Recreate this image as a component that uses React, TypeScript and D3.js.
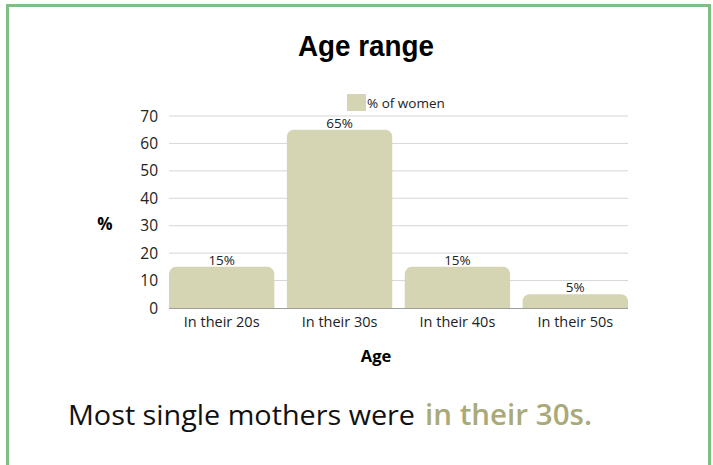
import React from "react";
import * as d3 from "d3";

const categories = ["In their 20s", "In their 30s", "In their 40s", "In their 50s"];
const values = [15, 65, 15, 5];
const valueLabels = ["15%", "65%", "15%", "5%"];
const yTicks = [0, 10, 20, 30, 40, 50, 60, 70];
const seriesName = "% of women";

const W = 713;
const H = 465;
const plot = { left: 169, right: 628, top: 116, bottom: 308 };
const barColor = "#d5d5b3";
const bodyFont = "'Open Sans', 'Noto Sans', sans-serif";

function topRoundedRect(x: number, y: number, w: number, h: number, r: number) {
  const rr = Math.min(r, h, w / 2);
  const p = d3.path();
  p.moveTo(x, y + h);
  p.lineTo(x, y + rr);
  p.arcTo(x, y, x + rr, y, rr);
  p.lineTo(x + w - rr, y);
  p.arcTo(x + w, y, x + w, y + rr, rr);
  p.lineTo(x + w, y + h);
  p.closePath();
  return p.toString();
}

export default function App() {
  const x = d3
    .scaleBand<string>()
    .domain(categories)
    .range([plot.left, plot.right])
    .paddingInner(0.106)
    .paddingOuter(0);
  const y = d3.scaleLinear().domain([0, 70]).range([plot.bottom, plot.top]);

  return (
    <svg
      width={W}
      height={H}
      style={{ position: "absolute", left: 0, top: 0, background: "#fff" }}
    >
      {/* frame */}
      <rect x={7.5} y={5.5} width={702} height={H + 20} fill="#fff" stroke="#7fbf86" strokeWidth={3} />

      <text
        x={298}
        y={56}
        fontFamily="'Liberation Sans', Arial, sans-serif"
        fontWeight="bold"
        fontSize={29}
        textLength={136}
        lengthAdjust="spacingAndGlyphs"
        fill="#000"
      >
        Age range
      </text>

      {/* legend */}
      <rect x={347} y={94} width={19} height={17} fill={barColor} />
      <text x={367} y={108} fontFamily={bodyFont} fontSize={13.5} fill="#222">
        {seriesName}
      </text>

      {/* grid */}
      {yTicks.map((t) => (
        <g key={t}>
          {t > 0 && (
            <line x1={plot.left} x2={plot.right} y1={y(t)} y2={y(t)} stroke="#d6d6d6" strokeWidth={1} />
          )}
          <text
            x={158}
            y={y(t) + 5.5}
            textAnchor="end"
            fontFamily={bodyFont}
            fontSize={15.5}
            fill="#222"
          >
            {t}
          </text>
        </g>
      ))}

      {/* bars */}
      {categories.map((c, i) => {
        const bx = x(c)!;
        const bw = x.bandwidth();
        const top = y(values[i]);
        return (
          <g key={c}>
            <path d={topRoundedRect(bx, top, bw, plot.bottom - top, 7)} fill={barColor} />
            <text
              x={bx + bw / 2}
              y={top - 2}
              textAnchor="middle"
              fontFamily={bodyFont}
              fontSize={13.5}
              fill="#222"
            >
              {valueLabels[i]}
            </text>
            <text
              x={bx + bw / 2}
              y={327}
              textAnchor="middle"
              fontFamily={bodyFont}
              fontSize={14.5}
              fill="#222"
            >
              {c}
            </text>
          </g>
        );
      })}

      <line x1={plot.left} x2={plot.right} y1={plot.bottom + 0.5} y2={plot.bottom + 0.5} stroke="#9e9e9e" strokeWidth={1} />

      {/* axis titles */}
      <text x={105} y={230} textAnchor="middle" fontFamily={bodyFont} fontWeight="bold" fontSize={17} fill="#000">
        %
      </text>
      <text x={376} y={362} textAnchor="middle" fontFamily={bodyFont} fontWeight="bold" fontSize={16.5} fill="#000">
        Age
      </text>

      {/* takeaway */}
      <text
        x={68}
        y={425}
        fontFamily={bodyFont}
        fontSize={28}
        fill="#111"
        textLength={347}
        lengthAdjust="spacingAndGlyphs"
      >
        Most single mothers were
      </text>
      <text
        x={425}
        y={425}
        fontFamily={bodyFont}
        fontWeight={600}
        fontSize={28}
        fill="#a9aa78"
        textLength={167}
        lengthAdjust="spacingAndGlyphs"
      >
        in their 30s.
      </text>
    </svg>
  );
}
